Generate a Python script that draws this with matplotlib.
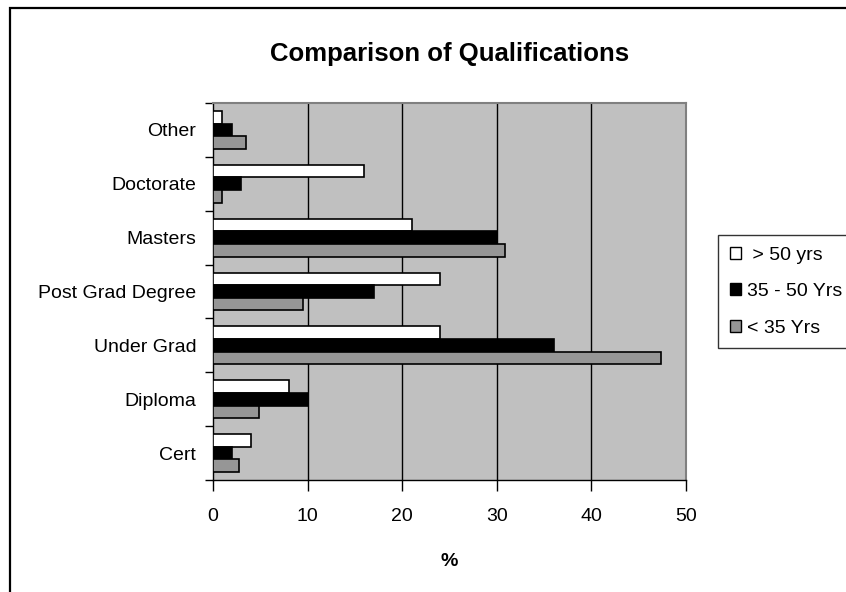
import numpy as np
import matplotlib
matplotlib.use("Agg")
import matplotlib.pyplot as plt
from matplotlib.patches import Rectangle, Patch

plt.rcParams["font.family"] = ["Liberation Sans", "DejaVu Sans"]

categories = ["Cert", "Diploma", "Under Grad", "Post Grad Degree", "Masters", "Doctorate", "Other"]
over_50 = [4, 8, 24, 24, 21, 16, 1]
mid_35_50 = [2, 10, 36, 17, 30, 3, 2]
under_35 = [2.7, 4.9, 47.4, 9.5, 30.9, 0.9, 3.5]
series_labels = [" > 50 yrs", "35 - 50 Yrs", "< 35 Yrs"]
x_ticks = [0, 10, 20, 30, 40, 50]

W, H = 846, 592
fig = plt.figure(figsize=(W / 100, H / 100), dpi=100)
fig.patch.set_facecolor("white")

# outer chart border (cut off at right/bottom like the source)
fig.patches.append(Rectangle((10 / W, -0.05), 1.2, 1 - 8 / H + 0.05,
                             transform=fig.transFigure, fill=False,
                             edgecolor="black", linewidth=1.6))

left, right, top, bottom = 213, 686, 103, 480
ax = fig.add_axes([left / W, 1 - bottom / H, (right - left) / W, (bottom - top) / H])
ax.set_facecolor("#c0c0c0")

y = np.arange(len(categories))
h = 0.235
colors = ["white", "black", "#969696"]
for i, (vals, c) in enumerate(zip([over_50, mid_35_50, under_35], colors)):
    ax.barh(y + (1 - i) * h, vals, height=h, color=c, edgecolor="black",
            linewidth=1.2, zorder=3)

ax.set_xlim(0, 50)
ax.set_ylim(-0.5, len(categories) - 0.5)
ax.set_xticks(x_ticks)
ax.tick_params(axis="x", length=8, width=1, direction="out", labelsize=14, pad=12)
for gx in x_ticks[1:-1]:
    ax.axvline(gx, color="black", linewidth=1, zorder=1)

ax.set_yticks(y)
ax.set_yticklabels(categories, fontsize=14)
ax.set_yticks(np.arange(-0.5, len(categories), 1), minor=True)
ax.tick_params(axis="y", which="major", length=0, pad=12)
ax.tick_params(axis="y", which="minor", length=6, width=1, direction="out")

for s in ["top", "right"]:
    ax.spines[s].set_color("#808080")
    ax.spines[s].set_linewidth(1.5)
for s in ["left", "bottom"]:
    ax.spines[s].set_color("black")
    ax.spines[s].set_linewidth(1)

ax.set_xlabel("%", fontsize=14, fontweight="bold", labelpad=20)
fig.text((left + right) / 2 / W, 1 - 54 / H, "Comparison of Qualifications",
         ha="center", va="center", fontsize=18.5, fontweight="bold")

handles = [Patch(facecolor=c, edgecolor="black", linewidth=1) for c in colors]
leg = fig.legend(handles, series_labels, loc="upper left",
                 bbox_to_anchor=(718 / W, 1 - 235 / H), fontsize=14,
                 frameon=True, fancybox=False, handlelength=0.6,
                 handleheight=0.6, handletextpad=0.3, labelspacing=1.0,
                 borderpad=0.6, borderaxespad=0)
leg.get_frame().set_edgecolor("black")
leg.get_frame().set_linewidth(1)

fig.savefig("out.png", dpi=100)
